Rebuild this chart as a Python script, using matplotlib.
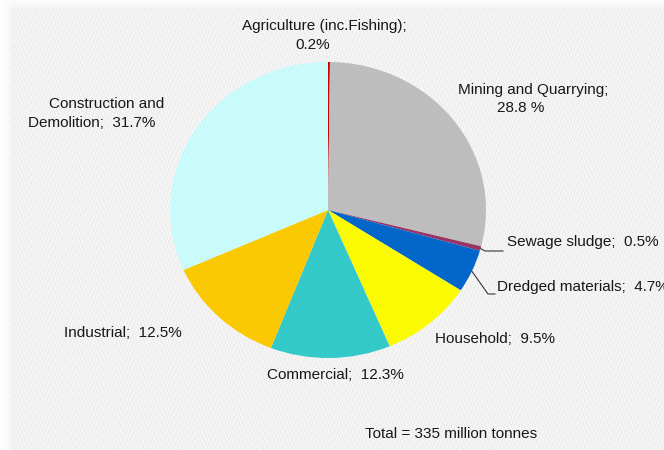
import numpy as np
import matplotlib.pyplot as plt

# waste arisings by sector, share of total (%)
sectors = ["Agriculture (inc.Fishing)", "Mining and Quarrying", "Sewage sludge",
           "Dredged materials", "Household", "Commercial", "Industrial",
           "Construction and Demolition"]
shares = [0.2, 28.8, 0.5, 4.7, 9.5, 12.3, 12.5, 31.7]
colours = ["#cc0000", "#c0c0c0", "#993366", "#0066cc", "#ffff00",
           "#33cccc", "#ffcc00", "#ccffff"]
total_mt = 335

W, H = 664, 450
fig = plt.figure(figsize=(W / 100, H / 100), dpi=100, facecolor="white")

# canvas-like paper with a soft shadow along the top and left edges
yy, xx = np.mgrid[0:H, 0:W].astype(float)
weave = (0.5 + 0.5 * np.sin(xx * 2.1) * np.sin(yy * 0.7 + np.sin(xx * 0.31) * 2)
         + 0.3 * np.sin(yy * 2.3 + xx * 0.05) * np.cos(xx * 0.9 + yy * 0.13))
weave = np.clip(weave, 0, 1.3)
paper = 0.982 - 0.03 * weave
px0, py0 = 14, 10
inside = (xx >= px0) & (yy >= py0)
dist = np.hypot(np.clip(px0 - xx, 0, None), np.clip(py0 - yy, 0, None))
shadow = 1.0 - 0.07 * np.exp(-dist / 6.0)
bg = np.where(inside, paper, shadow)
bax = fig.add_axes([0, 0, 1, 1], zorder=-5)
bax.imshow(np.dstack([bg] * 3), extent=(0, W, H, 0), interpolation="nearest")
bax.set_xlim(0, W)
bax.set_ylim(H, 0)
bax.axis("off")

# pie, slightly wider than tall
cx, cy, rx, ry = 328, 210, 158, 148
ax = fig.add_axes([(cx - rx) / W, 1 - (cy + ry) / H, 2 * rx / W, 2 * ry / H])
wedges, _ = ax.pie(shares, colors=colours, startangle=90, counterclock=False,
                   radius=1, wedgeprops=dict(linewidth=0))
ax.set_aspect("auto")
ax.set_xlim(-1, 1)
ax.set_ylim(-1, 1)
ax.axis("off")

txt = dict(fontsize=11, color="#151515", family="Liberation Sans")


def put(x, y, s, ha="left"):
    fig.text(x / W, 1 - y / H, s, ha=ha, va="center", **txt)


put(324, 26, f"{sectors[0]};", ha="center")
put(313, 45, f"{shares[0]}%", ha="center")
put(533, 90, f"{sectors[1]};", ha="center")
put(521, 108, f"{shares[1]} %", ha="center")
put(107, 104, "Construction and", ha="center")
put(92, 123, "Demolition;  %.1f%%" % shares[7], ha="center")
put(507, 242, f"{sectors[2]};  {shares[2]}%")
put(497, 287, f"{sectors[3]};  {shares[3]}%")
put(435, 339, f"{sectors[4]};  {shares[4]}%")
put(335, 375, f"{sectors[5]};  {shares[5]}%", ha="center")
put(64, 333, f"{sectors[6]};  {shares[6]}%")
put(365, 434, f"Total = {total_mt} million tonnes")

# leader lines for the two thin wedges on the right
cum = np.cumsum([0] + shares[:-1])
for i, ends in [(2, [(485, 251), (503, 251)]), (3, [(488, 294), (495, 294)])]:
    mid = cum[i] + shares[i] / 2
    ang = np.deg2rad(90 - 360 * mid / sum(shares))
    sx, sy = cx + rx * np.cos(ang), cy - ry * np.sin(ang)
    pts = [(sx, sy)] + ends
    bax.plot([p[0] for p in pts], [p[1] for p in pts], color="#333333", lw=0.8)

# faint weave over everything so the wedges share the paper texture
tex = np.ones((H, W, 4))
tex[..., :3] = 0.45
tex[..., 3] = 0.06 * weave * inside
tax = fig.add_axes([0, 0, 1, 1], zorder=5)
tax.imshow(tex, extent=(0, W, H, 0), interpolation="nearest")
tax.axis("off")

fig.savefig("out.png", dpi=100, facecolor="white")
